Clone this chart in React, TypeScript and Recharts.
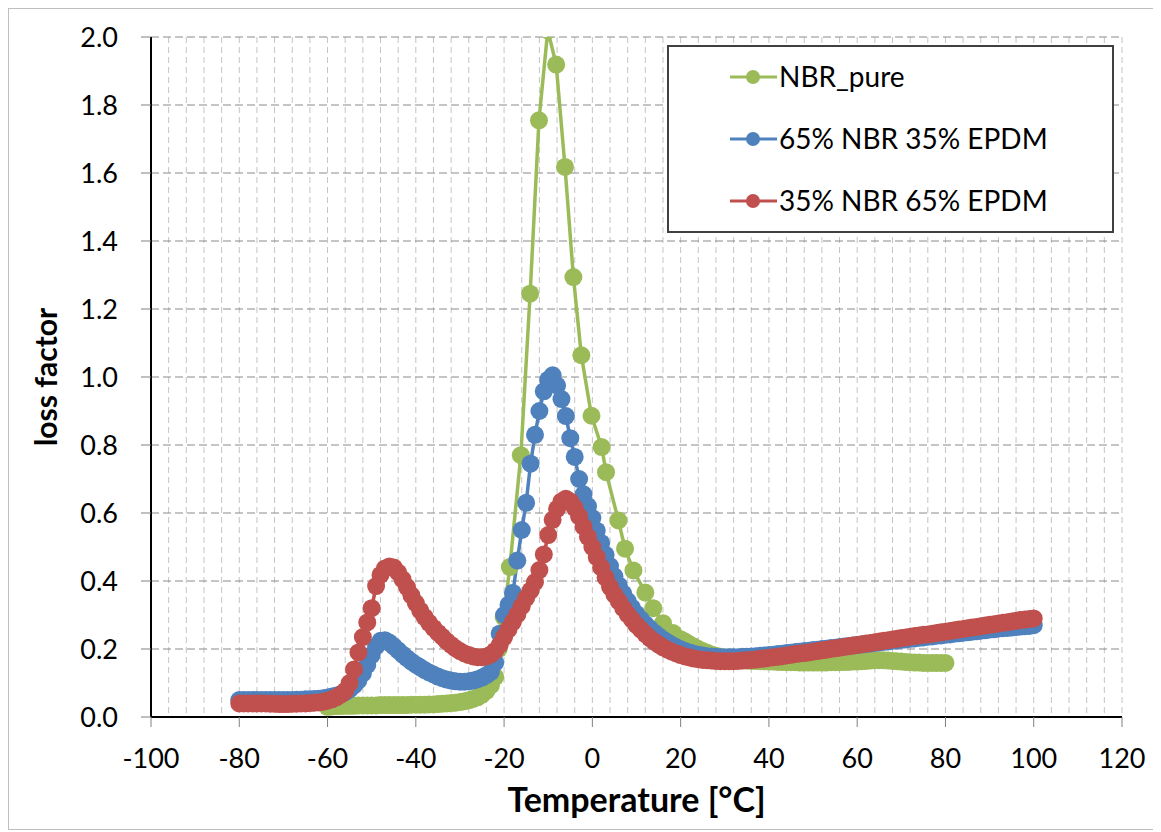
import React from 'react';
import { LineChart, Line, XAxis, YAxis, CartesianGrid, Legend, Label } from 'recharts';

// NBR_pure: dense below -22 and above 20, sparse markers through the peak
const nbrPureTemp = [
  -60, -59, -58, -57, -56, -55, -54, -53, -52, -51,
  -50, -49, -48, -47, -46, -45, -44, -43, -42, -41,
  -40, -39, -38, -37, -36, -35, -34, -33, -32, -31,
  -30, -29, -28, -27, -26, -25, -24, -23, -22, -21.2,
  -20.1, -18.7, -16.2, -14.1, -12.1, -10.1, -8.2, -6.2, -4.3, -2.5,
  -0.2, 2.1, 3.1, 5.9, 7.4, 9.3, 12.0, 13.8, 16.0, 18.3,
  20, 21, 22, 23, 24, 25, 26, 27, 28, 29,
  30, 31, 32, 33, 34, 35, 36, 37, 38, 39,
  40, 41, 42, 43, 44, 45, 46, 47, 48, 49,
  50, 51, 52, 53, 54, 55, 56, 57, 58, 59,
  60, 61, 62, 63, 64, 65, 66, 67, 68, 69,
  70, 71, 72, 73, 74, 75, 76, 77, 78, 79,
  80,
];
const nbrPureLoss = [
  0.030, 0.031, 0.032, 0.032, 0.033, 0.033, 0.033, 0.034, 0.034, 0.034,
  0.034, 0.034, 0.035, 0.035, 0.035, 0.035, 0.035, 0.035, 0.035, 0.036,
  0.036, 0.036, 0.036, 0.037, 0.037, 0.038, 0.039, 0.040, 0.041, 0.042,
  0.044, 0.046, 0.049, 0.053, 0.058, 0.066, 0.077, 0.093, 0.118, 0.200,
  0.294, 0.441, 0.770, 1.245, 1.755, 2.020, 1.919, 1.618, 1.294, 1.064,
  0.886, 0.794, 0.720, 0.578, 0.495, 0.431, 0.366, 0.320, 0.276, 0.247,
  0.229, 0.222, 0.214, 0.207, 0.200, 0.194, 0.189, 0.184, 0.180, 0.177,
  0.174, 0.172, 0.170, 0.168, 0.167, 0.166, 0.165, 0.165, 0.164, 0.164,
  0.163, 0.163, 0.162, 0.162, 0.161, 0.161, 0.161, 0.160, 0.160, 0.160,
  0.160, 0.160, 0.160, 0.160, 0.161, 0.161, 0.161, 0.162, 0.162, 0.163,
  0.163, 0.164, 0.165, 0.166, 0.167, 0.167, 0.167, 0.166, 0.165, 0.164,
  0.163, 0.162, 0.161, 0.160, 0.160, 0.159, 0.159, 0.159, 0.159, 0.159,
  0.159,
];

// both blends share the same temperature steps
const blendTemp = [
  -80, -79, -78, -77, -76, -75, -74, -73, -72, -71,
  -70, -69, -68, -67, -66, -65, -64, -63, -62, -61,
  -60, -59, -58, -57, -56, -55, -54, -53, -52, -51,
  -50, -49, -48, -47, -46, -45, -44, -43, -42, -41,
  -40, -39, -38, -37, -36, -35, -34, -33, -32, -31,
  -30, -29, -28, -27, -26, -25, -24, -23, -22, -21,
  -20, -19, -18, -17, -16, -15, -14, -13, -12, -11,
  -10, -9, -8, -7, -6, -5, -4, -3, -2, -1,
  0, 1, 2, 3, 4, 5, 6, 7, 8, 9,
  10, 11, 12, 13, 14, 15, 16, 17, 18, 19,
  20, 21, 22, 23, 24, 25, 26, 27, 28, 29,
  30, 31, 32, 33, 34, 35, 36, 37, 38, 39,
  40, 41, 42, 43, 44, 45, 46, 47, 48, 49,
  50, 51, 52, 53, 54, 55, 56, 57, 58, 59,
  60, 61, 62, 63, 64, 65, 66, 67, 68, 69,
  70, 71, 72, 73, 74, 75, 76, 77, 78, 79,
  80, 81, 82, 83, 84, 85, 86, 87, 88, 89,
  90, 91, 92, 93, 94, 95, 96, 97, 98, 99,
  100,
];
const nbr65Loss = [
  0.050, 0.050, 0.050, 0.050, 0.050, 0.050, 0.050, 0.050, 0.050, 0.050,
  0.050, 0.050, 0.050, 0.051, 0.051, 0.052, 0.052, 0.053, 0.054, 0.055,
  0.057, 0.060, 0.063, 0.067, 0.073, 0.081, 0.093, 0.108, 0.128, 0.153,
  0.182, 0.208, 0.224, 0.226, 0.219, 0.208, 0.196, 0.184, 0.173, 0.163,
  0.154, 0.146, 0.138, 0.131, 0.125, 0.119, 0.114, 0.110, 0.107, 0.105,
  0.104, 0.104, 0.105, 0.107, 0.111, 0.116, 0.123, 0.133, 0.160, 0.245,
  0.300, 0.330, 0.365, 0.460, 0.550, 0.630, 0.745, 0.830, 0.900, 0.958,
  0.992, 1.005, 0.975, 0.935, 0.885, 0.820, 0.765, 0.700, 0.655, 0.620,
  0.585, 0.548, 0.512, 0.477, 0.444, 0.414, 0.387, 0.363, 0.341, 0.321,
  0.303, 0.287, 0.273, 0.260, 0.248, 0.238, 0.228, 0.220, 0.212, 0.205,
  0.199, 0.194, 0.190, 0.186, 0.183, 0.181, 0.179, 0.178, 0.177, 0.176,
  0.176, 0.176, 0.176, 0.176, 0.177, 0.177, 0.178, 0.179, 0.180, 0.181,
  0.182, 0.183, 0.185, 0.186, 0.188, 0.189, 0.191, 0.192, 0.194, 0.195,
  0.197, 0.198, 0.200, 0.201, 0.203, 0.204, 0.206, 0.207, 0.209, 0.210,
  0.212, 0.213, 0.215, 0.216, 0.218, 0.219, 0.221, 0.222, 0.224, 0.225,
  0.227, 0.228, 0.230, 0.231, 0.233, 0.234, 0.236, 0.237, 0.239, 0.240,
  0.242, 0.243, 0.245, 0.246, 0.248, 0.249, 0.251, 0.252, 0.254, 0.255,
  0.257, 0.258, 0.260, 0.261, 0.262, 0.263, 0.265, 0.266, 0.267, 0.268,
  0.270,
];
const nbr35Loss = [
  0.040, 0.040, 0.040, 0.040, 0.040, 0.040, 0.040, 0.039, 0.039, 0.038,
  0.038, 0.038, 0.039, 0.039, 0.040, 0.040, 0.041, 0.042, 0.043, 0.045,
  0.048, 0.052, 0.058, 0.066, 0.077, 0.100, 0.140, 0.190, 0.235, 0.278,
  0.320, 0.385, 0.418, 0.437, 0.443, 0.440, 0.425, 0.405, 0.382, 0.358,
  0.335, 0.313, 0.294, 0.277, 0.262, 0.248, 0.236, 0.223, 0.212, 0.202,
  0.194, 0.187, 0.182, 0.178, 0.176, 0.176, 0.178, 0.184, 0.195, 0.212,
  0.235, 0.258, 0.280, 0.302, 0.326, 0.350, 0.372, 0.397, 0.432, 0.478,
  0.535, 0.580, 0.612, 0.634, 0.642, 0.634, 0.615, 0.590, 0.560, 0.530,
  0.500, 0.470, 0.440, 0.410, 0.383, 0.360, 0.340, 0.320, 0.302, 0.286,
  0.270, 0.257, 0.244, 0.232, 0.222, 0.213, 0.205, 0.198, 0.192, 0.187,
  0.182, 0.178, 0.175, 0.172, 0.170, 0.168, 0.167, 0.166, 0.165, 0.164,
  0.164, 0.164, 0.164, 0.165, 0.166, 0.167, 0.168, 0.169, 0.171, 0.172,
  0.174, 0.176, 0.177, 0.179, 0.181, 0.183, 0.185, 0.187, 0.188, 0.190,
  0.192, 0.194, 0.196, 0.198, 0.200, 0.202, 0.204, 0.206, 0.208, 0.210,
  0.212, 0.214, 0.216, 0.218, 0.220, 0.222, 0.224, 0.226, 0.228, 0.230,
  0.232, 0.234, 0.236, 0.238, 0.240, 0.242, 0.243, 0.245, 0.247, 0.249,
  0.251, 0.253, 0.255, 0.257, 0.259, 0.261, 0.263, 0.265, 0.267, 0.269,
  0.271, 0.273, 0.275, 0.277, 0.279, 0.281, 0.283, 0.285, 0.287, 0.288,
  0.290,
];

const yTicks = [0, 0.2, 0.4, 0.6, 0.8, 1.0, 1.2, 1.4, 1.6, 1.8, 2.0];
// x ticks every 4 for the minor grid, labels only on multiples of 20
const xTicks = Array.from({ length: 56 }, (_, i) => -100 + i * 4);

const series = [
  { name: 'NBR_pure', color: '#9BBB59', temps: nbrPureTemp, values: nbrPureLoss },
  { name: '65% NBR 35% EPDM', color: '#4F81BD', temps: blendTemp, values: nbr65Loss },
  { name: '35% NBR 65% EPDM', color: '#C0504D', temps: blendTemp, values: nbr35Loss },
];

const FONT = 'Lato, "Open Sans", sans-serif';

const XTick = (props: any) => {
  const { x, y, payload } = props;
  if (payload.value % 20 !== 0) return <g />;
  return (
    <g>
      <line x1={x} x2={x} y1={y} y2={y + 10} stroke="#808080" strokeWidth={1} />
      <text x={x} y={y + 51} textAnchor="middle" fontSize={27} fontFamily={FONT} fill="#000">
        {payload.value}
      </text>
    </g>
  );
};

const LegendBox = () => (
  <div
    style={{
      width: 447,
      height: 188,
      boxSizing: 'border-box',
      border: '2px solid #404040',
      background: '#fff',
    }}
  >
    <svg width={443} height={184}>
      {series.map((s, i) => {
        const cy = 30 + i * 62;
        return (
          <g key={s.name}>
            <line x1={61} x2={108} y1={cy} y2={cy} stroke={s.color} strokeWidth={3} />
            <circle cx={84} cy={cy} r={7} fill={s.color} />
            <text x={110} y={cy + 10} fontSize={28} fontFamily={FONT} fill="#000">
              {s.name}
            </text>
          </g>
        );
      })}
    </svg>
  </div>
);

export default function App() {
  return (
    <div
      style={{
        width: 1148,
        height: 820,
        border: '1px solid #bfbfbf',
        background: '#fff',
        fontFamily: FONT,
      }}
    >
      <LineChart width={1148} height={820} margin={{ top: 28, right: 35, left: 0, bottom: 0 }}>
        <CartesianGrid
          horizontal={false}
          stroke="#c4c4c4"
          strokeDasharray="6 4"
        />
        <CartesianGrid
          vertical={false}
          stroke="#8a8a8a"
          strokeDasharray="8 4"
        />
        <XAxis
          dataKey="t"
          type="number"
          domain={[-100, 120]}
          ticks={xTicks}
          interval={0}
          allowDataOverflow
          tick={<XTick />}
          tickLine={false}
          tickSize={0}
          tickMargin={0}
          axisLine={{ stroke: '#000', strokeWidth: 2 }}
          height={112}
        >
          <Label
            content={(p: any) => {
              const vb = p.viewBox;
              return (
                <text
                  x={vb.x + vb.width / 2}
                  y={vb.y + 95}
                  textAnchor="middle"
                  fontSize={34}
                  fontWeight="bold"
                  fontFamily={FONT}
                  fill="#000"
                >
                  Temperature [°C]
                </text>
              );
            }}
          />
        </XAxis>
        <XAxis
          xAxisId="top"
          orientation="top"
          type="number"
          domain={[-100, 120]}
          tick={false}
          tickLine={false}
          axisLine={{ stroke: '#000', strokeWidth: 2 }}
          height={0}
        />
        <YAxis
          type="number"
          domain={[0, 2]}
          ticks={yTicks}
          interval={0}
          allowDataOverflow
          width={142}
          tickSize={10}
          tickMargin={23}
          tickLine={{ stroke: '#808080', strokeWidth: 1 }}
          axisLine={{ stroke: '#000', strokeWidth: 2 }}
          tick={{ fill: '#000', fontSize: 27, fontFamily: FONT }}
          tickFormatter={(v: number) => v.toFixed(1)}
        >
          <Label
            content={(p: any) => {
              const vb = p.viewBox;
              const cx = 36;
              const cy = vb.y + vb.height / 2;
              return (
                <text
                  x={cx}
                  y={cy}
                  transform={`rotate(-90, ${cx}, ${cy})`}
                  textAnchor="middle"
                  dominantBaseline="central"
                  fontSize={30}
                  fontWeight="bold"
                  fontFamily={FONT}
                  fill="#000"
                >
                  loss factor
                </text>
              );
            }}
          />
        </YAxis>
        <YAxis
          yAxisId="right"
          orientation="right"
          type="number"
          domain={[0, 2]}
          tick={false}
          tickLine={false}
          axisLine={{ stroke: '#000', strokeWidth: 2 }}
          width={0}
        />
        <Legend
          layout="horizontal"
          verticalAlign="middle"
          align="center"
          wrapperStyle={{ left: 658, top: 36, width: 447, height: 188 }}
          content={() => <LegendBox />}
        />
        {series.map((s) => (
          <Line
            key={s.name}
            name={s.name}
            data={s.temps.map((t, i) => ({ t, v: s.values[i] }))}
            dataKey="v"
            type="linear"
            stroke={s.color}
            strokeWidth={3.5}
            dot={{ r: 9, fill: s.color, stroke: 'none' }}
            activeDot={false}
            isAnimationActive={false}
          />
        ))}
      </LineChart>
    </div>
  );
}
